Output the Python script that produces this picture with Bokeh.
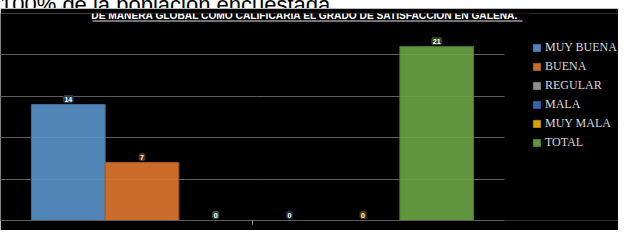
from bokeh.plotting import figure
from bokeh.models import (ColumnDataSource, Range1d, LabelSet, Label, Legend, LegendItem,
                          Grid, SingleIntervalTicker, FixedTicker, BoxAnnotation, LinearAxis, Div)
from bokeh.core.properties import value
from bokeh.layouts import column
from bokeh.embed import file_html
from bokeh.resources import INLINE
import numpy as np

# ---- data ----
series = ["MUY BUENA", "BUENA", "REGULAR", "MALA", "MUY MALA", "TOTAL"]
values = [14, 7, 0, 0, 0, 21]
colors = ["#5A93CC", "#E0772F", "#A0A0A0", "#416FC0", "#F0B400", "#68A544"]
edge_colors = ["#41709E", "#A85722", "#777777", "#2F5496", "#B38600", "#4B7A30"]
label_bg = ["#2C3C50", "#4C2D17", "#484848", "#1F2C4C", "#4C3B0E", "#2F4423"]
title_text = "DE MANERA GLOBAL  CÓMO CALIFICARÍA  EL GRADO  DE SATISFACCIÓN  EN GALENA."
top_text = "100% de la población encuestada."
y_max = 25
y_step = 5

n = len(series)
pad = 0.42
x = np.arange(n) + 0.5

src = ColumnDataSource(dict(x=x, v=values, s=series, c=colors, ec=edge_colors, lb=label_bg,
                            t=[str(v) for v in values]))

W, H = 618, 222
frame_w_chart = 504  # pixels for chart area
units_total = (n + 2 * pad) * W / frame_w_chart

p = figure(width=W, height=H, x_range=Range1d(-pad, -pad + units_total), y_range=Range1d(0, y_max),
           output_backend="svg", toolbar_location=None, x_axis_location=None, y_axis_location=None,
           min_border_left=0, min_border_right=0, min_border_top=5, min_border_bottom=10,
           background_fill_color="black", border_fill_color="black", outline_line_color=None)
p.grid.visible = False

grid = Grid(dimension=1, ticker=SingleIntervalTicker(interval=y_step), grid_line_color="#5E5E5E",
            grid_line_width=1)
p.add_layout(grid)

xaxis = LinearAxis(ticker=FixedTicker(ticks=[n / 2]), bounds=(-pad, n + pad),
                   axis_line_color="#5E5E5E", major_tick_line_color="#9A9A9A",
                   major_tick_out=4, major_tick_in=0, minor_tick_line_color=None,
                   major_label_text_font_size="1px", major_label_standoff=0,
                   major_label_text_alpha=0)
p.add_layout(xaxis, "below")

r = p.vbar(x="x", top="v", width=1.0, source=src, fill_color="c", line_color="ec",
           fill_alpha=0.9, line_width=1)

# cover grid beyond chart area (legend zone)
p.add_layout(BoxAnnotation(left=n + pad, fill_color="black", fill_alpha=1.0, line_color=None))

labels = LabelSet(x="x", y="v", text="t", source=src, text_align="center", text_baseline="bottom",
                  y_offset=3, text_font_size="7px", text_font_style="bold", text_color="white",
                  text_font=value("Liberation Sans"), background_fill_color="lb",
                  border_line_color="lb", border_line_width=3)
p.add_layout(labels)

legend = Legend(items=[LegendItem(label=s, renderers=[r], index=i) for i, s in enumerate(series)],
                location=(532, 70), orientation="vertical", margin=0, padding=0, spacing=4,
                label_height=13, glyph_height=9, glyph_width=9, label_standoff=4,
                label_text_font="Liberation Serif", label_text_font_size="12px",
                label_text_color="#D9D9D9", border_line_alpha=0, background_fill_alpha=0)
p.add_layout(legend)

title = Label(x=310, y=205, x_units="screen", y_units="screen", text=title_text,
              text_align="center", text_baseline="middle", text_font="Liberation Sans",
              text_font_size="10.2px", text_font_style="bold", text_color="white",
              background_fill_color="black", background_fill_alpha=1.0)
p.add_layout(title)
p.add_layout(BoxAnnotation(left=92, right=522, top=12, bottom=13, left_units="canvas",
                           right_units="canvas", top_units="canvas", bottom_units="canvas",
                           fill_color="white", fill_alpha=0.9, line_color=None))

top = Div(text=f'<div style="margin-top:-14px;font-family:\'Liberation Sans\';font-size:22px;'
               f'line-height:22px;color:black;white-space:nowrap">{top_text}</div>',
          width=W, height=8,
          styles={"background-color": "white", "overflow": "hidden", "margin": "0"})

layout = column(top, p, spacing=0)
open("out.html", "w").write(file_html(layout, INLINE))
